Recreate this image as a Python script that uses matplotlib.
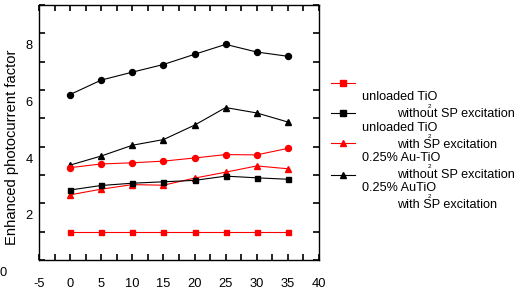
import matplotlib
matplotlib.use("Agg")
import matplotlib.pyplot as plt
from matplotlib.lines import Line2D
from matplotlib import transforms
import numpy as np

plt.rcParams['font.family'] = ['Liberation Sans', 'DejaVu Sans']
plt.rcParams['axes.unicode_minus'] = False

x = [0, 5, 10, 15, 20, 25, 30, 35]
black_circle = [5.84, 6.35, 6.63, 6.90, 7.26, 7.61, 7.34, 7.19]
black_triangle = [3.35, 3.67, 4.05, 4.25, 4.76, 5.38, 5.19, 4.87]
red_circle = [3.26, 3.39, 3.43, 3.49, 3.60, 3.72, 3.71, 3.94]
red_triangle = [2.30, 2.50, 2.66, 2.64, 2.89, 3.10, 3.32, 3.22]
black_square = [2.47, 2.63, 2.71, 2.76, 2.81, 2.96, 2.90, 2.85]
red_square = [1.0, 1.0, 1.0, 1.0, 1.0, 1.0, 1.0, 1.0]

xticks = [-5, 0, 5, 10, 15, 20, 25, 30, 35, 40]
yticks = [0, 2, 4, 6, 8]
ylabel = "Enhanced photocurrent factor"
legend_labels = [
    ("unloaded TiO", "without SP excitation"),
    ("unloaded TiO", "with SP excitation"),
    ("0.25% Au-TiO", "without SP excitation"),
    ("0.25% AuTiO", "with SP excitation"),
]

W, H = 521, 292
fig = plt.figure(figsize=(W / 100, H / 100), dpi=100)
ax = fig.add_axes([39 / W, 1 - 260 / H, 280 / W, 255 / H])

lw = 0.8
ax.plot(x, black_circle, color='black', lw=lw, marker='o', ms=4.3)
ax.plot(x, black_triangle, color='black', lw=lw, marker='^', ms=4.5)
ax.plot(x, red_circle, color='red', lw=lw, marker='o', ms=4.3)
ax.plot(x, red_triangle, color='red', lw=lw, marker='^', ms=4.5)
ax.plot(x, black_square, color='black', lw=lw, marker='s', ms=3.6)
ax.plot(x, red_square, color='red', lw=lw, marker='s', ms=3.6)

ax.set_xlim(-5, 40)
ax.set_ylim(0, 9)
for s in ax.spines.values():
    s.set_linewidth(1.0)

ax.set_xticks(xticks)
ax.set_xticks(np.arange(-2.5, 40, 5), minor=True)
ax.set_yticks(np.arange(0, 10, 1))
ax.set_yticklabels([])
ax.tick_params(axis='both', which='both', direction='in', top=True, right=True,
               left=True, bottom=True, length=4, width=1.2, color='black')
ax.tick_params(axis='x', which='major', labelsize=9.3, pad=13)

# y tick labels (offset downward as in the reference)
base = transforms.blended_transform_factory(ax.transAxes, ax.transData)
for v in yticks:
    dx = -6 / 100 if v != 0 else -32 / 100
    tr = base + transforms.ScaledTranslation(dx, -13 / 100, fig.dpi_scale_trans)
    ax.text(0, v, str(v), transform=tr, ha='right', va='center', fontsize=9.3)

ax.set_ylabel(ylabel, fontsize=10.6)
ax.yaxis.set_label_coords(-20 / 280, (260 - 147) / 255)

# manual legend
def fy(py):
    return 1 - py / H

def fx(px):
    return px / W

handles = [('red', 's', 83), ('black', 's', 113), ('red', '^', 143), ('black', '^', 175)]
for c, m, py in handles:
    fig.add_artist(Line2D([fx(331), fx(355)], [fy(py), fy(py)], color=c, lw=lw,
                          transform=fig.transFigure))
    fig.add_artist(Line2D([fx(343)], [fy(py)], color=c, marker=m,
                          ms=3.8 if m == 's' else 4.5, lw=0, transform=fig.transFigure))

text_pos = [(97, 106, 428, 114), (128, 136, 428, 145), (158, 166, 428, 175), (188, 196, 428, 205)]
for (l1, l2), (y1, ys, xs, y2) in zip(legend_labels, text_pos):
    fig.text(fx(362), fy(y1), l1, fontsize=9.1, ha='left', va='center')
    fig.text(fx(xs), fy(ys), "2", fontsize=4.5, ha='left', va='center')
    fig.text(fx(397), fy(y2), l2, fontsize=9.1, ha='left', va='center')

fig.savefig("out.png", dpi=100)
